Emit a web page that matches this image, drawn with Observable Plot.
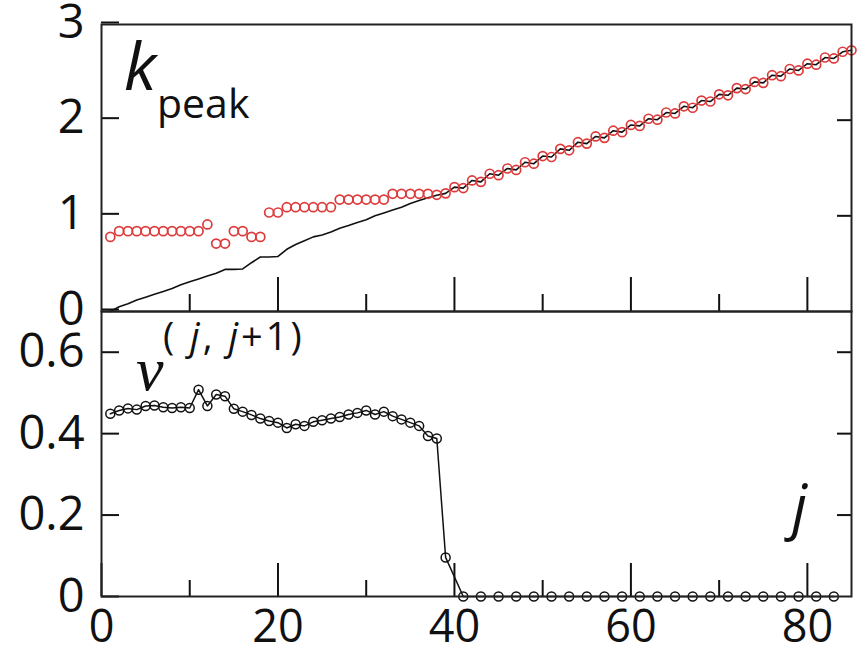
<!DOCTYPE html>
<html><head><meta charset="utf-8">
<script src="https://cdn.jsdelivr.net/npm/d3@7"></script>
<script src="https://cdn.jsdelivr.net/npm/@observablehq/plot@0.6"></script>
<style>
body{margin:0;background:#fff;}
#wrap{position:relative;width:859px;height:656px;overflow:hidden;background:#fff;}
#bot,#top,#ann{position:absolute;left:0;}
#top{top:0;} #bot{top:311px;} #ann{top:0;pointer-events:none;}
</style></head><body>
<div id="wrap"><div id="bot"></div><div id="top"></div>
<svg id="ann" width="859" height="656" font-family="'Open Sans', sans-serif" fill="#111">
  <text x="124" y="90" font-size="66" font-style="italic">k</text>
  <text x="157" y="118" font-size="41">peak</text>
  <text x="136" y="390" font-size="62" font-style="italic" font-family="'Liberation Serif', serif">ν</text>
  <text x="163" y="350" font-size="38" letter-spacing="3">( <tspan font-style="italic">j</tspan>, <tspan font-style="italic">j</tspan>+1)</text>
  <text x="792" y="528" font-size="60" font-style="italic">j</text>
</svg>
</div>
<script>
// k_peak (red circles), j = 1..85
const kPeak = [0.78,0.84,0.84,0.84,0.84,0.84,0.84,0.84,0.84,0.84,0.84,0.91,0.71,0.71,0.84,0.84,0.78,0.78,1.035,1.035,
  1.09,1.09,1.09,1.09,1.09,1.09,1.17,1.17,1.17,1.17,1.17,1.17,1.23,1.23,1.23,1.23,1.23,1.22,1.235,
  1.30,1.29,1.37,1.355,1.44,1.425,1.495,1.48,1.56,1.545,1.625,1.615,1.70,1.685,1.77,1.755,1.83,1.815,1.89,1.875,
  1.95,1.94,2.015,2.005,2.08,2.07,2.145,2.13,2.205,2.195,2.27,2.26,2.335,2.325,2.40,2.39,2.47,2.46,2.535,2.52,
  2.59,2.58,2.655,2.645,2.715,2.73];
// black reference line, j = 1..38 (joins the red circles afterwards)
const kLineLow = [0.00,0.05,0.08,0.12,0.15,0.18,0.21,0.24,0.28,0.31,0.34,0.37,0.40,0.44,0.44,0.445,0.51,0.57,0.57,0.575,
  0.65,0.70,0.74,0.78,0.80,0.83,0.87,0.90,0.93,0.96,1.00,1.03,1.06,1.09,1.13,1.16,1.19,1.215];
// v^(j,j+1)
const vJ = [1,2,3,4,5,6,7,8,9,10,11,12,13,14,15,16,17,18,19,20,21,22,23,24,25,26,27,28,29,30,31,32,33,34,35,36,37,38,39,
  41,43,45,47,49,51,53,55,57,59,61,63,65,67,69,71,73,75,77,79,81,83];
const vVal = [0.449,0.457,0.462,0.459,0.468,0.469,0.465,0.463,0.465,0.463,0.508,0.468,0.496,0.492,0.461,0.454,0.446,0.437,0.431,0.427,
  0.414,0.423,0.419,0.429,0.433,0.437,0.441,0.447,0.451,0.457,0.447,0.454,0.443,0.435,0.427,0.419,0.394,0.388,0.096,
  0,0,0,0,0,0,0,0,0,0,0,0,0,0,0,0,0,0,0,0,0,0];
const xMajor = [0,20,40,60,80];
const xMinor = [10,30,50,70];
const yTopTicks = [0,1,2,3];
const yBotTicks = [0,0.2,0.4,0.6];

const topData = kPeak.map((k,i)=>({j:i+1,k}));
const lineData = kLineLow.map((k,i)=>({j:i+1,k})).concat(topData.slice(kLineLow.length));
const botData = vJ.map((j,i)=>({j, v:vVal[i]}));

const style = {fontFamily:"'Open Sans', sans-serif", fontSize:"47px", color:"#111", background:"none", overflow:"visible"};
const none = () => "";
const common = {width:859, marginLeft:101, marginRight:8, style};

const topPlot = Plot.plot({
  ...common, height:311, marginTop:24, marginBottom:0,
  x:{domain:[0,85], label:null},
  y:{domain:[0,3], label:null},
  marks:[
    Plot.axisY({ticks:yTopTicks, anchor:"left", tickSize:-18, tickPadding:35, strokeWidth:2, label:null,
      tickFormat:d => String(d), dy:-2}),
    Plot.axisY({ticks:[1,2], anchor:"right", tickSize:-15, tickFormat:none, strokeWidth:2, label:null}),
    Plot.axisX({ticks:xMajor.slice(1), anchor:"bottom", tickSize:-34, tickFormat:none, strokeWidth:2, label:null}),
    Plot.axisX({ticks:xMinor, anchor:"bottom", tickSize:-17, tickFormat:none, strokeWidth:2, label:null}),
    Plot.line(lineData, {x:"j", y:"k", stroke:"#111", strokeWidth:1.6}),
    Plot.dot(topData, {x:"j", y:"k", r:4.5, stroke:"#dd3b3b", strokeWidth:1.7, fill:"none"}),
    Plot.frame({stroke:"#222", strokeWidth:2})
  ]
});

const botPlot = Plot.plot({
  ...common, height:345, marginTop:0, marginBottom:60,
  x:{domain:[0,85], label:null},
  y:{domain:[0,0.7], label:null},
  marks:[
    Plot.axisY({ticks:yBotTicks, anchor:"left", tickSize:-18, tickPadding:35, strokeWidth:2, label:null,
      tickFormat:d => d === 0 ? "0" : d3.format(".1f")(d)}),
    Plot.axisY({ticks:yBotTicks.slice(1), anchor:"right", tickSize:-15, tickFormat:none, strokeWidth:2, label:null}),
    Plot.axisX({ticks:xMajor, anchor:"bottom", tickSize:-33, tickPadding:47, fontSize:45, strokeWidth:2, label:null}),
    Plot.axisX({ticks:xMinor, anchor:"bottom", tickSize:-16, tickFormat:none, strokeWidth:2, label:null}),
    Plot.line(botData, {x:"j", y:"v", stroke:"#111", strokeWidth:1.5}),
    Plot.dot(botData, {x:"j", y:"v", r:4.5, stroke:"#111", strokeWidth:1.5, fill:"none"}),
    Plot.frame({stroke:"#222", strokeWidth:2})
  ]
});

document.getElementById("top").appendChild(topPlot);
document.getElementById("bot").appendChild(botPlot);
</script>
</body></html>
